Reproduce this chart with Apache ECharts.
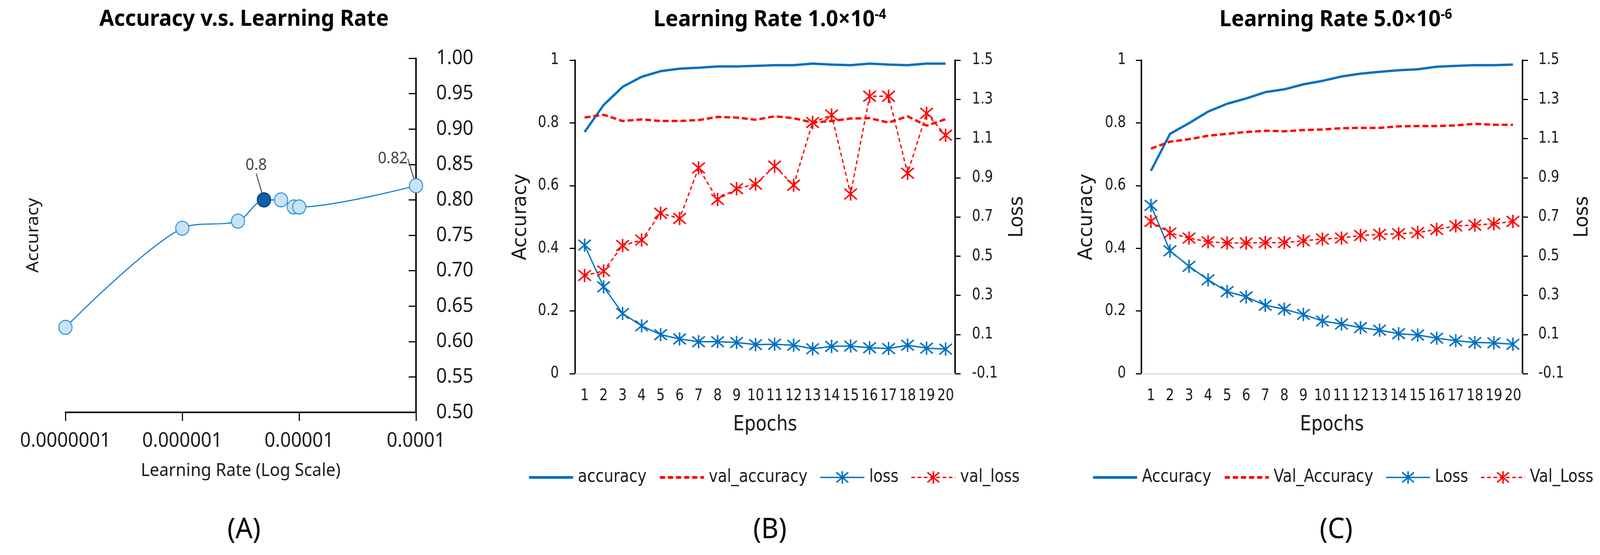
<!DOCTYPE html>
<html>
<head>
<meta charset="utf-8">
<script src="https://cdn.jsdelivr.net/npm/echarts@6/dist/echarts.min.js"></script>
<style>
  html, body { margin: 0; padding: 0; background: #fff; overflow: hidden; }
  #chart { width: 4354px; height: 1420px; transform-origin: 0 0; }
</style>
</head>
<body>
<div id="chart"></div>
<script>
/* ---------------------------- data ---------------------------- */
// (A) accuracy vs learning rate
const learningRates = [1e-7, 1e-6, 3e-6, 5e-6, 7e-6, 9e-6, 1e-5, 1e-4];
const lrAccuracy = [0.62, 0.76, 0.77, 0.80, 0.80, 0.79, 0.79, 0.82];
const bestIndex = 3; // highlighted point (0.8)
const labelledIndex = [3, 7];

// (B) and (C) training curves
const epochs = ['1', '2', '3', '4', '5', '6', '7', '8', '9', '10',
  '11', '12', '13', '14', '15', '16', '17', '18', '19', '20'];

const bAccuracy = [0.771, 0.857, 0.915, 0.947, 0.965, 0.973, 0.976, 0.980, 0.980, 0.982,
  0.984, 0.984, 0.989, 0.986, 0.984, 0.989, 0.986, 0.984, 0.989, 0.989];
const bValAccuracy = [0.817, 0.826, 0.806, 0.811, 0.806, 0.806, 0.809, 0.819, 0.817, 0.810,
  0.821, 0.815, 0.801, 0.806, 0.814, 0.815, 0.801, 0.821, 0.791, 0.812];
const bLoss = [0.556, 0.343, 0.207, 0.144, 0.099, 0.077, 0.063, 0.063, 0.059, 0.048,
  0.050, 0.045, 0.027, 0.039, 0.041, 0.032, 0.028, 0.045, 0.030, 0.025];
const bValLoss = [0.401, 0.424, 0.554, 0.582, 0.719, 0.692, 0.950, 0.789, 0.844, 0.867,
  0.959, 0.862, 1.182, 1.220, 0.817, 1.316, 1.316, 0.923, 1.229, 1.117];

const cAccuracy = [0.647, 0.765, 0.799, 0.836, 0.861, 0.878, 0.898, 0.907, 0.923, 0.934,
  0.948, 0.957, 0.963, 0.968, 0.971, 0.979, 0.982, 0.984, 0.984, 0.986];
const cValAccuracy = [0.718, 0.740, 0.748, 0.759, 0.765, 0.771, 0.775, 0.773, 0.777, 0.779,
  0.783, 0.784, 0.784, 0.789, 0.790, 0.790, 0.792, 0.797, 0.794, 0.794];
const cLoss = [0.759, 0.527, 0.448, 0.379, 0.319, 0.292, 0.249, 0.229, 0.202, 0.169,
  0.153, 0.135, 0.122, 0.104, 0.097, 0.081, 0.068, 0.059, 0.057, 0.050];
const cValLoss = [0.677, 0.618, 0.592, 0.573, 0.567, 0.567, 0.569, 0.569, 0.578, 0.587,
  0.592, 0.605, 0.611, 0.614, 0.620, 0.636, 0.654, 0.658, 0.665, 0.677];

const bNames = ['accuracy', 'val_accuracy', 'loss', 'val_loss'];
const cNames = ['Accuracy', 'Val_Accuracy', 'Loss', 'Val_Loss'];

// axis ranges / ticks
const lrRange = [1e-7, 1e-4];
const accRangeA = [0.5, 1.0, 0.05];
const accRange = [0, 1, 0.2];
const lossRange = [-0.1, 1.5, 0.2];

/* ---------------------------- fonts --------------------------- */
const measureCtx = document.createElement('canvas').getContext('2d');

const hasFont = family => {
  const probe = 'abcdefghijklmnopqrstuvwxyz0123456789';
  measureCtx.font = '60px monospace';
  const base = measureCtx.measureText(probe).width;
  measureCtx.font = `60px "${family}", monospace`;
  return measureCtx.measureText(probe).width !== base;
};

// font size that gives `text` the width it has in the reference
const fitSize = (text, family, weight, width) => {
  measureCtx.font = `${weight} 100px "${family}"`;
  return Math.round((100 * width) / measureCtx.measureText(text).width);
};

const SANS = 'Noto Sans';
const NARROW = ['Liberation Sans Narrow', 'DejaVu Sans Condensed', 'Roboto'].find(hasFont) || SANS;
const q = f => `"${f}"`;

const titleSize = fitSize('Accuracy v.s. Learning Rate', SANS, 'bold', 791);
const aTickSize = fitSize('0.0000001', SANS, 'normal', 245);
const aNameSize = fitSize('Learning Rate (Log Scale)', SANS, 'normal', 543);
const aLabelSize = fitSize('0.82', SANS, 'normal', 82);
const panelSize = fitSize('(A)', SANS, 'normal', 91);
const tickSize = fitSize('-0.1', NARROW, 'normal', 70);
const nameSize = fitSize('Epochs', NARROW, 'normal', 173);
const legendSize = fitSize('accuracy', NARROW, 'normal', 188);

/* --------------------------- styling -------------------------- */
const BLUE = '#0070C0';
const RED = '#FF0000';
const TEXT = '#1a1a1a';
const ASTERISK = 'path://M10,0 L10,20 M0,2 L20,18 M0,18 L20,2';

// the window may be narrower than the figure: squeeze it horizontally to fit
const el = document.getElementById('chart');
el.style.transform = `scaleX(${Math.min(1, window.innerWidth / 4354)})`;
const chart = echarts.init(el);

const grids = [
  { left: 178, top: 149, width: 954, height: 906 },
  { left: 1565, top: 154, width: 1034, height: 802 },
  { left: 3106, top: 154, width: 1037, height: 802 }
];

const tickLabel = { color: TEXT, fontFamily: q(NARROW), fontSize: tickSize };
const axisName = { color: TEXT, fontFamily: q(NARROW), fontSize: nameSize };
const blackAxisLine = { show: true, lineStyle: { color: '#000', width: 4 } };
const blackTick = { color: '#000', width: 3 };

const epochXAxis = gridIndex => ({
  type: 'category',
  gridIndex,
  data: epochs,
  boundaryGap: true,
  axisLine: { show: true, lineStyle: { color: '#d9d9d9', width: 3 } },
  axisTick: { show: false },
  axisLabel: { ...tickLabel, margin: 58 - tickSize / 2, interval: 0 },
  name: 'Epochs',
  nameLocation: 'middle',
  nameGap: 131 - nameSize / 2,
  nameTextStyle: axisName,
  splitLine: { show: false }
});

const accYAxis = (gridIndex, labelMargin, nameCenter) => ({
  type: 'value',
  gridIndex,
  position: 'left',
  min: accRange[0],
  max: accRange[1],
  interval: accRange[2],
  axisLine: blackAxisLine,
  axisTick: { show: true, length: 15, lineStyle: blackTick },
  axisLabel: { ...tickLabel, margin: labelMargin, formatter: v => String(+v.toFixed(1)) },
  splitLine: { show: false },
  name: 'Accuracy',
  nameLocation: 'middle',
  nameRotate: 90,
  nameGap: nameCenter - nameSize / 2,
  nameTextStyle: axisName
});

const lossYAxis = (gridIndex, labelMargin, nameCenter) => ({
  type: 'value',
  gridIndex,
  position: 'right',
  min: lossRange[0],
  max: lossRange[1],
  interval: lossRange[2],
  axisLine: blackAxisLine,
  axisTick: { show: true, length: 15, lineStyle: blackTick },
  axisLabel: { ...tickLabel, margin: labelMargin, formatter: v => v.toFixed(1) },
  splitLine: { show: false },
  name: 'Loss',
  nameLocation: 'middle',
  nameRotate: 90,
  nameGap: nameCenter - nameSize / 2,
  nameTextStyle: axisName
});

const trainingSeries = (names, idx, acc, valAcc, loss, valLoss) => [
  {
    name: names[0], type: 'line', xAxisIndex: idx.x, yAxisIndex: idx.acc,
    data: acc, symbol: 'none', color: BLUE,
    lineStyle: { color: BLUE, width: 6 }
  },
  {
    name: names[1], type: 'line', xAxisIndex: idx.x, yAxisIndex: idx.acc,
    data: valAcc, symbol: 'none', color: RED,
    lineStyle: { color: RED, width: 6, type: [16, 8] }
  },
  {
    name: names[2], type: 'line', xAxisIndex: idx.x, yAxisIndex: idx.loss,
    data: loss, symbol: ASTERISK, symbolSize: 34, color: BLUE,
    lineStyle: { color: BLUE, width: 3.5 },
    itemStyle: { color: BLUE, borderColor: BLUE, borderWidth: 4 }
  },
  {
    name: names[3], type: 'line', xAxisIndex: idx.x, yAxisIndex: idx.loss,
    data: valLoss, symbol: ASTERISK, symbolSize: 34, color: RED,
    lineStyle: { color: RED, width: 3.5, type: [10, 7] },
    itemStyle: { color: RED, borderColor: RED, borderWidth: 4 }
  }
];

const legendFor = (names, left) => ({
  data: [
    { name: names[0], itemStyle: { opacity: 0 }, lineStyle: { width: 7 } },
    { name: names[1], itemStyle: { opacity: 0 }, lineStyle: { width: 7, type: [14, 8] } },
    { name: names[2], itemStyle: { borderWidth: 4 }, lineStyle: { width: 3.5 } },
    { name: names[3], itemStyle: { borderWidth: 4 }, lineStyle: { width: 3.5, type: [10, 7] } }
  ],
  left,
  top: 1221 - legendSize * 0.6,
  itemWidth: 120,
  itemHeight: 40,
  itemGap: 33,
  textStyle: { color: TEXT, fontFamily: q(NARROW), fontSize: legendSize, padding: [0, 0, 0, 8] }
});

const titleText = (text, centerX, centerY, size, bold) => ({
  text,
  left: centerX,
  top: centerY - size * 0.6,
  textAlign: 'center',
  textStyle: {
    color: '#000',
    fontFamily: q(SANS),
    fontSize: size,
    fontWeight: bold ? 'bold' : 'normal',
    rich: {
      base: { fontFamily: q(SANS), fontSize: size, fontWeight: 'bold', color: '#000' },
      sup: { fontFamily: q(SANS), fontSize: Math.round(size * 0.6), fontWeight: 'bold', color: '#000', padding: [0, 0, size * 0.45, 0] }
    }
  }
});

// where the two value labels sit relative to their points in (A)
const labelOffsets = { 3: [-21, -88], 7: [-63, -69] };

const lrSeriesData = learningRates.map((lr, i) => {
  const item = { value: [lr, lrAccuracy[i]] };
  if (i === bestIndex) {
    item.itemStyle = { color: '#0f5fae', borderColor: '#0a3b70', borderWidth: 3 };
  }
  if (labelledIndex.includes(i)) {
    item.label = { show: true };
  }
  return item;
});

const option = {
  backgroundColor: '#fff',
  animation: false,
  title: [
    titleText('Accuracy v.s. Learning Rate', 659, 50, titleSize, true),
    titleText('{base|Learning Rate 1.0×10}{sup|-4}', 2090, 50, titleSize, true),
    titleText('{base|Learning Rate 5.0×10}{sup|-6}', 3630, 50, titleSize, true),
    titleText('(A)', 659, 1359, panelSize, false),
    titleText('(B)', 2090, 1359, panelSize, false),
    titleText('(C)', 3631, 1359, panelSize, false)
  ],
  legend: [legendFor(bNames, 1431), legendFor(cNames, 2966)],
  grid: grids,
  xAxis: [
    {
      type: 'log',
      gridIndex: 0,
      logBase: 10,
      min: lrRange[0],
      max: lrRange[1],
      axisLine: blackAxisLine,
      axisTick: { show: true, length: 22, lineStyle: blackTick },
      axisLabel: {
        color: TEXT, fontFamily: q(SANS), fontSize: aTickSize, margin: 73 - aTickSize / 2,
        formatter: v => v.toFixed(Math.round(-Math.log10(v)))
      },
      splitLine: { show: false },
      minorTick: { show: false },
      name: 'Learning Rate (Log Scale)',
      nameLocation: 'middle',
      nameGap: 150 - aNameSize / 2,
      nameTextStyle: { color: TEXT, fontFamily: q(SANS), fontSize: aNameSize }
    },
    epochXAxis(1),
    epochXAxis(2)
  ],
  yAxis: [
    {
      type: 'value',
      gridIndex: 0,
      position: 'right',
      min: accRangeA[0],
      max: accRangeA[1],
      interval: accRangeA[2],
      axisLine: blackAxisLine,
      axisTick: { show: true, inside: true, length: 20, lineStyle: blackTick },
      axisLabel: { color: TEXT, fontFamily: q(SANS), fontSize: aTickSize, margin: 55, formatter: v => v.toFixed(2) },
      splitLine: { show: false }
    },
    {
      type: 'value',
      gridIndex: 0,
      position: 'left',
      min: accRangeA[0],
      max: accRangeA[1],
      axisLine: { show: false },
      axisTick: { show: false },
      axisLabel: { show: false },
      splitLine: { show: false },
      name: 'Accuracy',
      nameLocation: 'middle',
      nameRotate: 90,
      nameGap: 87 - aNameSize / 2,
      nameTextStyle: { color: TEXT, fontFamily: q(SANS), fontSize: aNameSize }
    },
    accYAxis(1, 44, 148),
    lossYAxis(1, 46, 169),
    accYAxis(2, 42, 149),
    lossYAxis(2, 43, 163)
  ],
  series: [
    {
      name: 'Accuracy by LR',
      type: 'line',
      xAxisIndex: 0,
      yAxisIndex: 0,
      data: lrSeriesData,
      smooth: 0.3,
      symbol: 'circle',
      symbolSize: 36,
      color: '#1a7fd0',
      lineStyle: { color: '#1a7fd0', width: 3 },
      itemStyle: { color: '#c6e4f6', borderColor: '#2a8ad6', borderWidth: 2.5 },
      label: {
        show: false,
        position: 'top',
        color: '#404040',
        fontFamily: q(SANS),
        fontSize: aLabelSize,
        formatter: p => String(p.value[1])
      },
      labelLine: { show: true, lineStyle: { color: '#404040', width: 2.5 } },
      labelLayout: p => {
        const off = labelOffsets[p.dataIndex] || [0, -60];
        return {
          x: p.rect.x + p.rect.width / 2 + off[0],
          y: p.rect.y + p.rect.height / 2 + off[1],
          align: 'center',
          verticalAlign: 'middle'
        };
      },
      z: 3
    },
    ...trainingSeries(bNames, { x: 1, acc: 2, loss: 3 }, bAccuracy, bValAccuracy, bLoss, bValLoss),
    ...trainingSeries(cNames, { x: 2, acc: 4, loss: 5 }, cAccuracy, cValAccuracy, cLoss, cValLoss)
  ]
};

chart.setOption(option);
</script>
</body>
</html>
